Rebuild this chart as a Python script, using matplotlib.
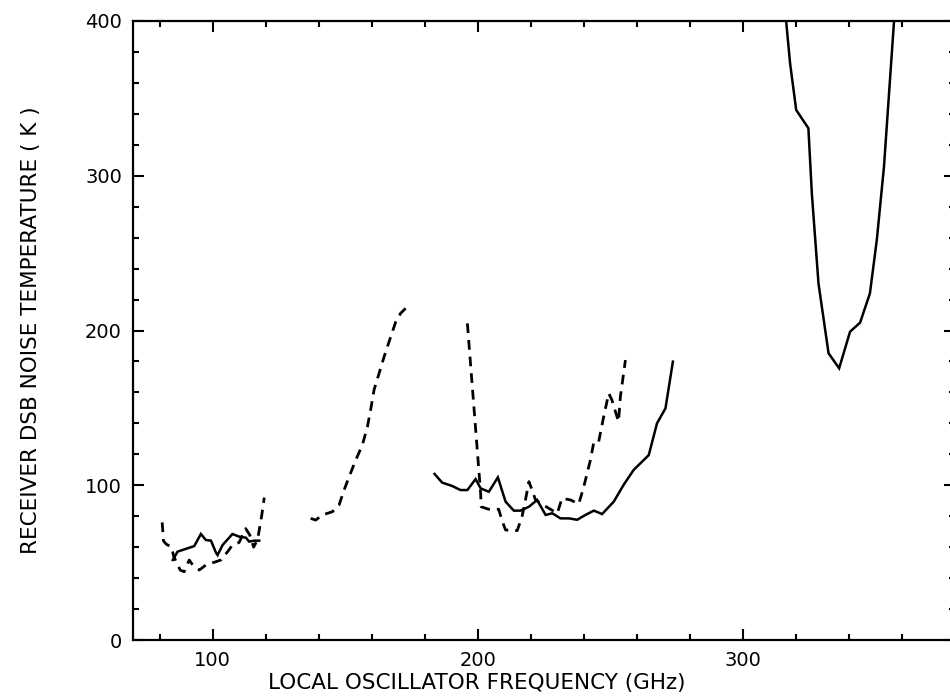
import numpy as np
import matplotlib
matplotlib.use('Agg')
import matplotlib.pyplot as plt
from matplotlib.ticker import MultipleLocator

# 80-120 GHz band
lo_solid_x = [85.0, 86.8, 93.1, 95.6, 97.5, 99.4, 101.3, 101.9, 103.8, 107.5,
              110.0, 112.6, 113.8, 115.7, 117.6]
lo_solid_y = [51.7, 57.1, 60.7, 68.5, 64.6, 64.2, 56.4, 54.9, 61.4, 68.5,
              66.8, 66.1, 63.6, 64.2, 64.2]
lo_dash_x = [81.0, 81.5, 82.5, 84.5, 85.4, 87.8, 89.3, 91.2, 92.5, 95.0,
             97.5, 101.3, 103.1, 105.7, 107.5, 110.0, 112.5, 114.0, 115.5,
             117.0, 118.5, 119.5]
lo_dash_y = [76.0, 64.0, 62.0, 60.0, 53.8, 45.2, 44.1, 51.7, 48.5, 45.2,
             48.5, 50.6, 51.7, 57.1, 61.4, 63.0, 72.0, 68.0, 60.0,
             65.0, 80.0, 92.0]

# 135-175 GHz band
mid_dash_x = [137.0, 138.9, 141.4, 145.2, 147.7, 149.6, 151.5, 154.0, 156.5,
              158.4, 159.6, 160.9, 162.8, 164.7, 167.2, 169.1, 170.9, 172.8]
mid_dash_y = [78.6, 77.5, 80.8, 82.9, 87.2, 96.9, 105.5, 116.3, 126.0,
              137.8, 148.6, 161.6, 172.3, 183.1, 196.0, 205.7, 211.1, 214.3]

# 180-275 GHz band
hi_solid_x = [183.7, 186.6, 190.4, 193.5, 196.1, 199.2, 201.1, 204.2, 207.6,
              210.5, 213.6, 216.1, 219.3, 222.4, 225.6, 228.1, 231.2, 234.4,
              237.5, 240.6, 243.8, 246.9, 251.3, 255.0, 258.8, 264.5, 267.6,
              270.8, 273.6]
hi_solid_y = [107.3, 101.7, 99.5, 96.9, 96.9, 104.0, 98.0, 95.8, 105.1,
              89.4, 83.6, 83.6, 86.1, 90.5, 80.8, 81.9, 78.6, 78.6,
              77.7, 80.8, 83.6, 81.4, 89.4, 100.2, 109.9, 119.5, 140.0,
              149.7, 179.9]
hi_dash_x = [196.1, 201.1, 201.3, 204.1, 207.9, 209.3, 210.5, 214.9, 216.7,
             218.0, 219.3, 220.5, 221.8, 226.8, 230.0, 231.8, 235.0, 238.1,
             240.0, 242.5, 243.8, 245.6, 247.5, 249.4, 250.6, 253.1, 253.8,
             255.7]
hi_dash_y = [204.6, 94.8, 86.1, 84.5, 84.5, 76.5, 71.1, 70.7, 79.7,
             90.5, 102.3, 96.9, 90.5, 85.1, 81.9, 91.6, 90.5, 87.9,
             99.1, 116.3, 128.1, 128.1, 144.3, 159.4, 155.1, 141.1, 157.2,
             180.9]

# 315-360 GHz band
top_solid_x = [316.3, 317.8, 320.1, 324.7, 326.0, 328.5, 332.3, 336.3, 340.4,
               344.2, 347.9, 350.5, 353.2, 357.0]
top_solid_y = [400.0, 372.6, 342.5, 330.7, 288.6, 230.5, 185.3, 175.6, 199.2,
               205.1, 224.0, 258.5, 305.8, 400.0]

x_ticks = [100, 200, 300]
y_ticks = [0, 100, 200, 300, 400]

fig = plt.figure(figsize=(9.5, 7), dpi=100)
ax = fig.add_axes([0.14, 0.0857, 0.8653, 0.8843])

dash = (0, (3.5, 2.5))
for xs, ys in [(lo_solid_x, lo_solid_y), (hi_solid_x, hi_solid_y),
               (top_solid_x, top_solid_y)]:
    ax.plot(xs, ys, color='black', lw=1.8, solid_joinstyle='miter')
for xs, ys in [(lo_dash_x, lo_dash_y), (mid_dash_x, mid_dash_y),
               (hi_dash_x, hi_dash_y)]:
    ax.plot(xs, ys, color='black', lw=2.0, linestyle=dash)

ax.set_xlim(70, 380)
ax.set_ylim(0, 400)
ax.set_xticks(x_ticks)
ax.set_yticks(y_ticks)
ax.xaxis.set_minor_locator(MultipleLocator(20))
ax.yaxis.set_minor_locator(MultipleLocator(20))
ax.tick_params(which='both', direction='in', top=True, right=True,
               width=1.5, labelsize=14, pad=8)
ax.tick_params(which='major', length=8)
ax.tick_params(which='minor', length=4)
for s in ax.spines.values():
    s.set_linewidth(1.6)

ax.set_xlabel('LOCAL OSCILLATOR FREQUENCY (GHz)', fontsize=15.5)
ax.set_ylabel('RECEIVER DSB NOISE TEMPERATURE ( K )', fontsize=15.5)
ax.xaxis.set_label_coords(0.418, -0.054)
ax.yaxis.set_label_coords(-0.112, 0.5)

fig.savefig('out.png', dpi=100)
